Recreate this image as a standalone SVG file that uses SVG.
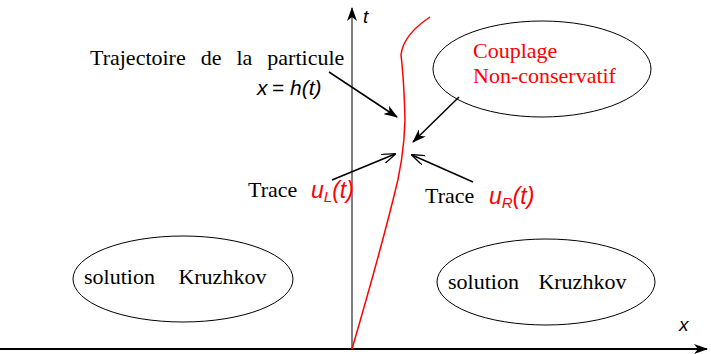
<svg xmlns="http://www.w3.org/2000/svg" width="711" height="354" viewBox="0 0 711 354">
<style>
.serif{font-family:"Liberation Serif","Times New Roman",serif;font-size:22px;fill:#000}
.red{fill:#ff0000}
.math{font-family:"Liberation Sans",Arial,sans-serif;font-style:italic;font-size:19px}
.mid{font-size:21px}
.big{font-size:23px}
.node{fill:none;stroke:#000;stroke-width:1}
.conn{stroke:#000;stroke-width:1.5;fill:none}
</style>
<defs>
<marker id="ah" viewBox="0 0 14 10" refX="13" refY="5" markerWidth="14" markerHeight="10" markerUnits="userSpaceOnUse" orient="auto">
<path d="M0,0 L14,5 L0,10 L4,5 Z" fill="#000"/>
</marker>
<marker id="ah2" viewBox="0 0 14 10" refX="13" refY="5" markerWidth="14" markerHeight="10" markerUnits="userSpaceOnUse" orient="auto">
<path d="M0,0 L14,5 L0,10" fill="none" stroke="#000" stroke-width="1.3"/>
</marker>
</defs>
<g id="axes">
<line x1="0" y1="349" x2="707" y2="349" stroke="#000" stroke-width="2" marker-end="url(#ah)"/>
<line x1="352" y1="349" x2="352" y2="8" stroke="#555" stroke-width="1.5" marker-end="url(#ah)"/>
<text class="math" x="363" y="23">t</text>
<text class="math" x="679" y="331">x</text>
</g>
<g id="trajectory">
<path d="M352,349 Q378,260 393,200 Q404,160 405,120 Q404,80 401,55 Q403,35 430,17" fill="none" stroke="#ff0000" stroke-width="1.5"/>
</g>
<g id="node-couplage">
<ellipse class="node" cx="542" cy="69" rx="109" ry="48"/>
<text class="serif red" x="473" y="58">Couplage</text>
<text class="serif red" x="473" y="83">Non-conservatif</text>
</g>
<g id="node-kruzhkov-left">
<ellipse class="node" cx="183" cy="279" rx="110" ry="43"/>
<text class="serif" x="84" y="284" word-spacing="18">solution Kruzhkov</text>
</g>
<g id="node-kruzhkov-right">
<ellipse class="node" cx="546" cy="282" rx="109" ry="43"/>
<text class="serif" x="448" y="289" word-spacing="14">solution Kruzhkov</text>
</g>
<g id="label-trajectoire">
<text class="serif" x="90" y="65" word-spacing="9.5">Trajectoire de la particule</text>
<text class="math mid" y="95"><tspan x="257">x</tspan><tspan x="272" font-style="normal">=</tspan><tspan x="290">h(t)</tspan></text>
</g>
<g id="label-trace-left">
<text class="serif" x="248" y="197">Trace</text>
<text class="math red big" x="311" y="198">u<tspan font-size="15" dy="4">L</tspan><tspan dy="-4">(t)</tspan></text>
</g>
<g id="label-trace-right">
<text class="serif" x="425" y="203">Trace</text>
<text class="math red big" x="489" y="204">u<tspan font-size="15" dy="4">R</tspan><tspan dy="-4">(t)</tspan></text>
</g>
<g id="connectors">
<line class="conn" x1="329" y1="72" x2="397" y2="117" marker-end="url(#ah)"/>
<line class="conn" x1="459" y1="97" x2="413" y2="142" marker-end="url(#ah)"/>
<line class="conn" x1="332" y1="180" x2="395" y2="154" marker-end="url(#ah2)"/>
<line class="conn" x1="473" y1="182" x2="412" y2="155" marker-end="url(#ah2)"/>
</g>
</svg>
